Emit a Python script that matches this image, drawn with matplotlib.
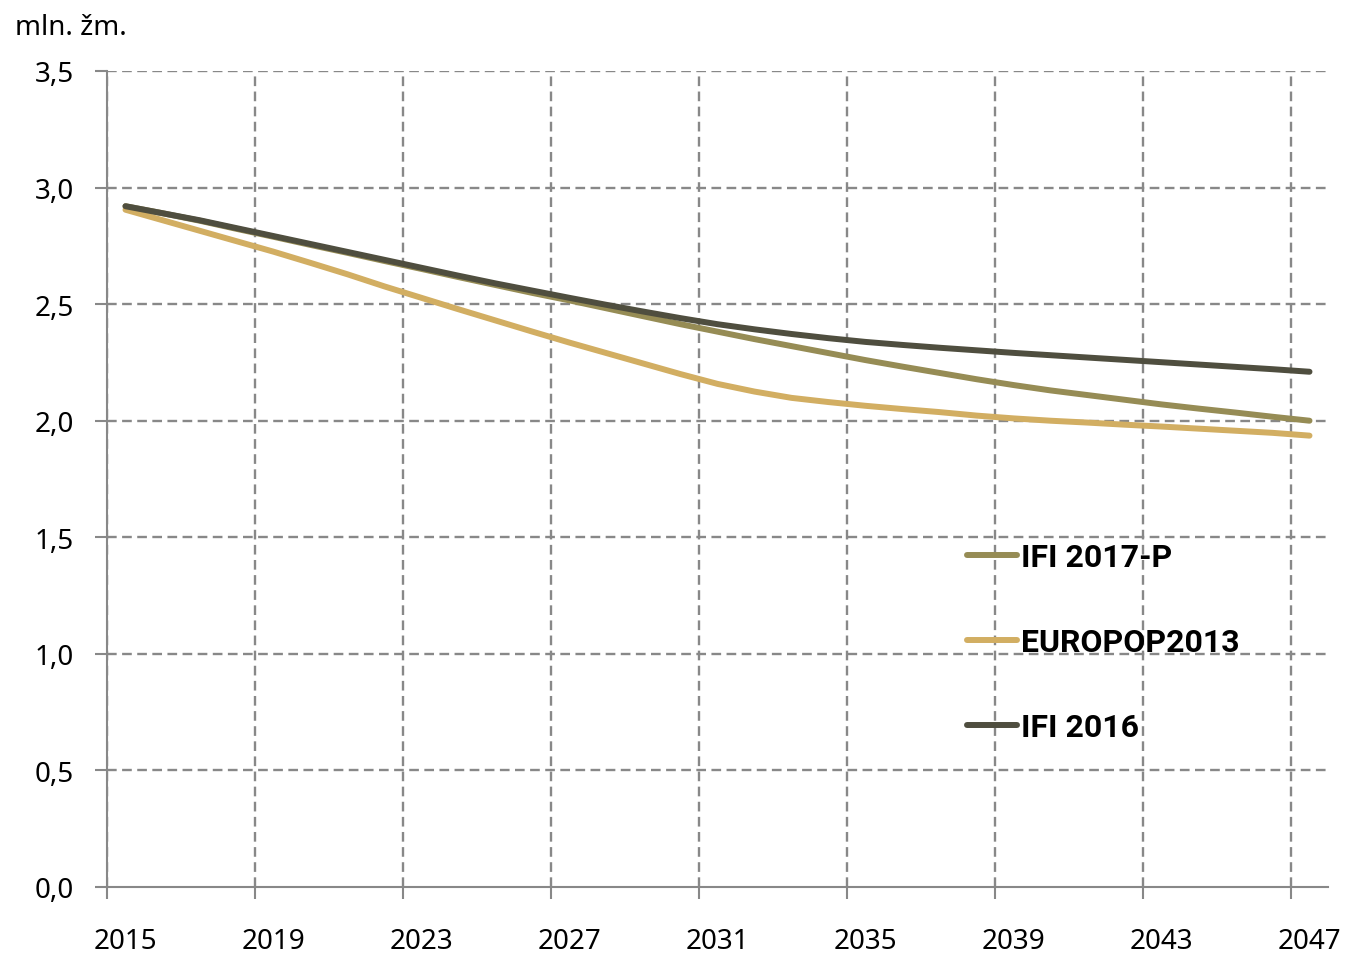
import matplotlib
matplotlib.use("Agg")
import matplotlib.pyplot as plt
from matplotlib.lines import Line2D
import numpy as np

years = list(range(2015, 2048))
ifi_2017p = [2.92, 2.89, 2.858, 2.823, 2.789, 2.754, 2.72, 2.685, 2.651, 2.616, 2.582,
             2.548, 2.516, 2.482, 2.448, 2.414, 2.382, 2.35, 2.32, 2.29, 2.26, 2.232,
             2.205, 2.178, 2.153, 2.13, 2.11, 2.09, 2.07, 2.052, 2.035, 2.017, 2.0]
europop2013 = [2.905, 2.86, 2.815, 2.77, 2.725, 2.677, 2.628, 2.576, 2.527, 2.478, 2.43,
               2.382, 2.335, 2.29, 2.245, 2.2, 2.158, 2.125, 2.098, 2.08, 2.064, 2.05,
               2.037, 2.022, 2.01, 2.0, 1.992, 1.983, 1.975, 1.966, 1.957, 1.948, 1.936]
ifi_2016 = [2.92, 2.89, 2.86, 2.826, 2.792, 2.758, 2.724, 2.69, 2.656, 2.622, 2.589,
            2.558, 2.527, 2.497, 2.468, 2.44, 2.414, 2.392, 2.372, 2.354, 2.338, 2.325,
            2.313, 2.302, 2.291, 2.281, 2.271, 2.261, 2.251, 2.241, 2.231, 2.221, 2.21]
series_names = ["IFI 2017-P", "EUROPOP2013", "IFI 2016"]
colors = ["#968c55", "#d2ae62", "#4f4e3f"]
y_ticks = [0.0, 0.5, 1.0, 1.5, 2.0, 2.5, 3.0, 3.5]
x_label_years = list(range(2015, 2048, 4))
unit_label = "mln. žm."

plt.rcParams['font.family'] = ['Noto Sans', 'DejaVu Sans']

fig = plt.figure(figsize=(13.46, 9.54), dpi=100)
ax = fig.add_axes([107/1346, 66/954, 1221/1346, 816/954])

grid_col = "#888888"
dash = (0, (4.1, 2.3))

data = [ifi_2017p, europop2013, ifi_2016]
for name, vals, col in zip(series_names, data, colors):
    ax.plot(years, vals, color=col, lw=4.3, solid_capstyle='round',
            solid_joinstyle='round', label=name, zorder=3)

ax.set_xlim(years[0] - 0.5, years[-1] + 0.5)
ax.set_ylim(0, 3.5)

grid_x = [y - 0.5 for y in x_label_years]
ax.set_xticks(grid_x)
ax.set_xticklabels([])
ax.set_xticks(x_label_years, minor=True)
ax.set_xticklabels([str(y) for y in x_label_years], minor=True)
ax.tick_params(axis='x', which='major', direction='out', length=8.6, width=1.5, color=grid_col)
ax.tick_params(axis='x', which='minor', length=0, pad=29, labelsize=20)

ax.set_yticks(y_ticks)
ax.set_yticklabels([f"{v:.1f}".replace('.', ',') for v in y_ticks])
ax.tick_params(axis='y', direction='out', length=8.6, width=1.5, color=grid_col, pad=15, labelsize=20)

for gx in grid_x:
    ax.axvline(gx, color=grid_col, lw=1.7, linestyle=dash, zorder=1)
for gy in y_ticks[1:]:
    ax.axhline(gy, color=grid_col, lw=1.7, linestyle=dash, zorder=1)

for s in ['top', 'right']:
    ax.spines[s].set_visible(False)
for s in ['left', 'bottom']:
    ax.spines[s].set_color(grid_col)
    ax.spines[s].set_linewidth(1.5)

handles = [Line2D([0], [0], color=c, lw=4.3, solid_capstyle='round') for c in colors]
leg = fig.legend(handles, series_names, loc='upper left',
                 bbox_to_anchor=(967/1346, 1 - 543/954), frameon=False,
                 prop={'family': 'Roboto', 'weight': 'bold', 'size': 23},
                 handlelength=1.58, handletextpad=0.12, labelspacing=1.72,
                 borderpad=0, borderaxespad=0)

fig.text(15/1346, 1 - 28/954, unit_label, fontsize=20, ha='left', va='center')

fig.savefig("out.png", dpi=100)
